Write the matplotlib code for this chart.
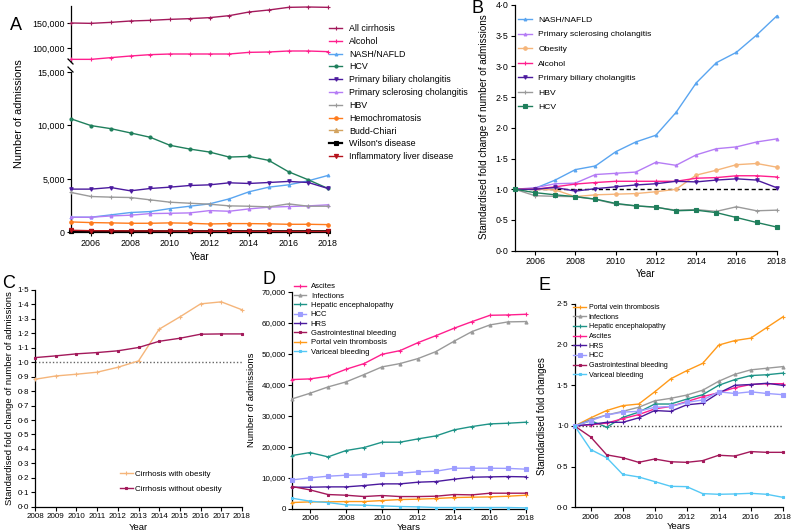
import matplotlib
matplotlib.use('Agg')
import matplotlib.pyplot as plt
from matplotlib.lines import Line2D

plt.rcParams['font.family'] = ['Liberation Sans', 'DejaVu Sans']

years = list(range(2005, 2019))
years_c = list(range(2008, 2019))

# ---------------- Panel A: number of admissions by aetiology ----------------
a_all_cirrhosis = [150000, 149300, 151300, 154000, 155300, 157300, 158700, 160700, 164700, 172000, 176000, 181300, 182000, 181300]
a_alcohol = [77300, 77300, 80700, 84000, 86700, 88000, 88000, 88000, 88000, 91300, 92000, 94000, 94000, 92700]
a_nash = [1410, 1410, 1630, 1850, 1940, 2220, 2440, 2660, 3130, 3790, 4225, 4440, 4820, 5320]
a_hcv = [10610, 9985, 9700, 9300, 8890, 8140, 7790, 7510, 7040, 7100, 6730, 5665, 4914, 4100]
a_pbc = [4040, 4040, 4190, 3880, 4100, 4225, 4380, 4440, 4630, 4570, 4660, 4760, 4660, 4100]
a_psc = [1410, 1410, 1530, 1600, 1750, 1780, 1815, 2030, 1970, 2190, 2350, 2410, 2470, 2570]
a_hbv = [3725, 3350, 3290, 3255, 3036, 2817, 2720, 2630, 2473, 2440, 2380, 2660, 2440, 2440]
a_hemo = [970, 910, 880, 845, 845, 880, 845, 780, 815, 815, 790, 750, 750, 720]
a_budd = [110, 105, 110, 105, 110, 110, 105, 110, 115, 110, 115, 120, 115, 120]
a_wilson = [90, 90, 90, 85, 90, 85, 90, 90, 95, 90, 95, 90, 95, 95]
a_inflam = [190, 150, 140, 130, 120, 110, 100, 100, 90, 90, 85, 80, 80, 80]
a_labels = ['All cirrhosis', 'Alcohol', 'NASH/NAFLD', 'HCV', 'Primary biliary cholangitis',
            'Primary sclerosing cholangitis', 'HBV', 'Hemochromatosis', 'Budd-Chiari',
            "Wilson's disease", 'Inflammatory liver disease']
a_top_ticks = [100000, 150000]
a_bottom_ticks = [0, 5000, 10000, 15000]

# ---------------- Panel B: standardised fold change ----------------
b_nash = [1.0, 1.015, 1.15, 1.32, 1.38, 1.61, 1.77, 1.88, 2.25, 2.73, 3.06, 3.23, 3.51, 3.82]
b_psc = [1.0, 1.025, 1.09, 1.10, 1.24, 1.26, 1.28, 1.44, 1.39, 1.56, 1.66, 1.69, 1.77, 1.82]
b_obesity = [1.0, 1.0, 0.99, 0.88, 0.91, 0.92, 0.93, 0.96, 1.0, 1.23, 1.31, 1.40, 1.42, 1.36]
b_alcohol = [1.0, 1.0, 1.04, 1.085, 1.11, 1.13, 1.13, 1.13, 1.13, 1.18, 1.19, 1.22, 1.22, 1.20]
b_pbc = [1.0, 1.0, 1.03, 0.97, 1.01, 1.04, 1.07, 1.09, 1.13, 1.12, 1.15, 1.17, 1.15, 1.025]
b_hbv = [1.0, 0.895, 0.885, 0.88, 0.835, 0.76, 0.73, 0.705, 0.66, 0.67, 0.64, 0.715, 0.65, 0.66]
b_hcv = [1.0, 0.945, 0.91, 0.88, 0.84, 0.77, 0.73, 0.71, 0.65, 0.66, 0.62, 0.54, 0.46, 0.385]
b_labels = ['NASH/NAFLD', 'Primary sclerosing cholangitis', 'Obesity', 'Alcohol',
            'Primary biliary cholangitis', 'HBV', 'HCV']
b_ticks = [0.0, 0.5, 1.0, 1.5, 2.0, 2.5, 3.0, 3.5, 4.0]

# ---------------- Panel C: obesity ----------------
c_with = [0.882, 0.905, 0.917, 0.931, 0.965, 1.009, 1.229, 1.314, 1.404, 1.418, 1.363]
c_without = [1.032, 1.044, 1.058, 1.067, 1.079, 1.102, 1.145, 1.166, 1.194, 1.196, 1.196]
c_labels = ['Cirrhosis with obesity', 'Cirrhosis without obesity']
c_ticks = [0.0, 0.1, 0.2, 0.3, 0.4, 0.5, 0.6, 0.7, 0.8, 0.9, 1.0, 1.1, 1.2, 1.3, 1.4, 1.5]

# ---------------- Panel D: complications, number of admissions ----------------
d_ascites = [41660, 41870, 42720, 44980, 46800, 49810, 50990, 53570, 55830, 58200, 60350, 62390, 62500, 62720]
d_infect = [35410, 37240, 39280, 40900, 43260, 45740, 46810, 48430, 50690, 54020, 57140, 59290, 60260, 60370]
d_he = [17150, 18110, 16720, 18760, 19730, 21450, 21450, 22520, 23490, 25430, 26500, 27360, 27570, 27900]
d_hcc = [9300, 9945, 10480, 10800, 10910, 11340, 11450, 11880, 12090, 13060, 13060, 13060, 13000, 12750]
d_hrs = [6930, 6930, 7040, 7040, 7470, 8010, 8010, 8550, 8760, 9510, 10160, 10270, 10370, 10270]
d_gib = [7150, 6070, 4570, 4350, 3920, 4250, 3920, 3920, 4030, 4570, 4460, 5000, 5000, 5000]
d_pvt = [1990, 2200, 2200, 2310, 2310, 2630, 2960, 3070, 3280, 3600, 3710, 3820, 4030, 4350]
d_varic = [3390, 2420, 1990, 1240, 1130, 910, 700, 590, 380, 380, 380, 380, 380, 270]
d_labels = ['Ascites', 'Infections', 'Hepatic encephalopathy', 'HCC', 'HRS',
            'Gastrointestinal bleeding', 'Portal vein thrombosis', 'Variceal bleeding']
d_ticks = [0, 10000, 20000, 30000, 40000, 50000, 60000, 70000]

# ---------------- Panel E: complications, fold change ----------------
e_pvt = [1.0, 1.10, 1.19, 1.25, 1.27, 1.42, 1.58, 1.68, 1.77, 1.995, 2.05, 2.08, 2.21, 2.34]
e_infect = [1.0, 1.08, 1.135, 1.18, 1.23, 1.31, 1.34, 1.38, 1.44, 1.55, 1.635, 1.69, 1.71, 1.73]
e_he = [1.0, 1.065, 0.985, 1.105, 1.17, 1.27, 1.27, 1.33, 1.385, 1.50, 1.57, 1.62, 1.63, 1.65]
e_ascites = [1.0, 1.015, 1.035, 1.09, 1.14, 1.21, 1.24, 1.30, 1.36, 1.41, 1.47, 1.51, 1.52, 1.52]
e_hrs = [1.0, 1.02, 1.045, 1.045, 1.10, 1.19, 1.18, 1.26, 1.28, 1.405, 1.50, 1.51, 1.525, 1.50]
e_hcc = [1.0, 1.065, 1.135, 1.17, 1.18, 1.23, 1.24, 1.29, 1.32, 1.42, 1.40, 1.42, 1.40, 1.385]
e_gib = [1.0, 0.865, 0.645, 0.61, 0.553, 0.594, 0.56, 0.553, 0.574, 0.64, 0.63, 0.685, 0.676, 0.676]
e_varic = [1.0, 0.71, 0.61, 0.405, 0.373, 0.316, 0.258, 0.254, 0.168, 0.16, 0.164, 0.172, 0.16, 0.123]
e_labels = ['Portal vein thrombosis', 'Infections', 'Hepatic encephalopathy', 'Ascites', 'HRS',
            'HCC', 'Gastrointestinal bleeding', 'Variceal bleeding']
e_ticks = [0.0, 0.5, 1.0, 1.5, 2.0, 2.5]

year_ticks = [2006, 2008, 2010, 2012, 2014, 2016, 2018]

# colours
C_ALL = '#a3195b'
C_ALC = '#ff1f8e'
C_NASH = '#5aa5f0'
C_HCV = '#1f7f5c'
C_PBC = '#4b1a9e'
C_PSC = '#b57cf5'
C_HBV = '#9a9a9a'
C_HEMO = '#ff7b1c'
C_BUDD = '#d3a35f'
C_WIL = '#000000'
C_INF = '#b5121b'
C_OBE = '#f5b57a'
C_HE = '#1f9488'
C_HCC = '#9d9dff'
C_PVT = '#ff9a1a'
C_VAR = '#55c8f5'

W, H = 791, 532
fig = plt.figure(figsize=(W / 100, H / 100), dpi=100)


def px_axes(x0, x1, ytop, ybot):
    return fig.add_axes([x0 / W, (H - ybot) / H, (x1 - x0) / W, (ybot - ytop) / H])


def style(ax, fs=6.4):
    for s in ['top', 'right']:
        ax.spines[s].set_visible(False)
    for s in ['left', 'bottom']:
        ax.spines[s].set_linewidth(0.9)
    ax.tick_params(labelsize=fs, length=3, width=0.8, pad=1.5)


def dot(v, nd=1):
    return f'{v:.{nd}f}'.replace('.', '\u00b7')


def comma(v):
    return f'{v:,.0f}'


def plot(ax, x, y, c, m, ms=2.5, lw=1.0, label=None):
    return ax.plot(x, y, color=c, marker=m, ms=ms, lw=lw, mew=0.8, clip_on=False, label=label, zorder=3)[0]


# ===================== Panel A =====================
axA = px_axes(71.25, 328, 72, 232.3)
axAt = px_axes(71.25, 328, 6, 62)
style(axA)
style(axAt)
axAt.spines['bottom'].set_visible(False)
axAt.tick_params(axis='x', bottom=False, labelbottom=False)

hA = []
hA.append(plot(axAt, years, a_all_cirrhosis, C_ALL, '+', ms=3))
hA.append(plot(axAt, years, a_alcohol, C_ALC, '+', ms=3.5))
hA.append(plot(axA, years, a_nash, C_NASH, '^', ms=2))
hA.append(plot(axA, years, a_hcv, C_HCV, 'o', ms=2.2))
hA.append(plot(axA, years, a_pbc, C_PBC, 'v', ms=2.5))
hA.append(plot(axA, years, a_psc, C_PSC, '^', ms=2))
hA.append(plot(axA, years, a_hbv, C_HBV, '+', ms=3))
hA.append(plot(axA, years, a_hemo, C_HEMO, 'o', ms=2.5))
hA.append(plot(axA, years, a_budd, C_BUDD, '^', ms=3))
hA.append(plot(axA, years, a_wilson, C_WIL, 's', ms=3, lw=1.6))
hA.append(plot(axA, years, a_inflam, C_INF, 'v', ms=3))

for ax in (axA, axAt):
    ax.set_xlim(2005, 2018)
axA.set_ylim(0, 15000)
axAt.set_ylim(72000, 184000)
axA.set_yticks(a_bottom_ticks)
axA.set_yticklabels([comma(v) for v in a_bottom_ticks])
axAt.set_yticks(a_top_ticks)
axAt.set_yticklabels([comma(v) for v in a_top_ticks])
axA.set_xticks(year_ticks)
axA.set_xlabel('Year', fontsize=7, labelpad=3)
axA.set_ylabel('Number of admissions', fontsize=7.8)
axA.yaxis.set_label_coords(-0.185, 0.74)

# axis break marks
fig.add_artist(Line2D([68 / W, 73 / W], [(H - 59) / H, (H - 64) / H], color='k', lw=0.9))
fig.add_artist(Line2D([68 / W, 73 / W], [(H - 67) / H, (H - 72) / H], color='k', lw=0.9))

fig.legend(hA, a_labels, loc='upper left', bbox_to_anchor=(329 / W, (H - 24) / H),
           frameon=False, fontsize=6.4, handlelength=1.5, handletextpad=0.8,
           labelspacing=0.43, borderaxespad=0, borderpad=0)

fig.text(10 / W, (H - 30) / H, 'A', fontsize=13)

# ===================== Panel B =====================
axB = px_axes(514.9, 776.7, 5, 250.7)
style(axB)
hB = []
hB.append(plot(axB, years, b_nash, C_NASH, '^', ms=2))
hB.append(plot(axB, years, b_psc, C_PSC, '^', ms=2))
hB.append(plot(axB, years, b_obesity, C_OBE, 'o', ms=2.5))
hB.append(plot(axB, years, b_alcohol, C_ALC, '+', ms=3.5))
hB.append(plot(axB, years, b_pbc, C_PBC, 'v', ms=2.5))
hB.append(plot(axB, years, b_hbv, C_HBV, '+', ms=3))
hB.append(plot(axB, years, b_hcv, C_HCV, 's', ms=2.2))
axB.plot([2005, 2018], [1, 1], color='k', ls=(0, (3, 2)), lw=1.0, zorder=2)
axB.set_xlim(2005, 2018)
axB.set_ylim(0, 4.0)
axB.set_yticks(b_ticks)
axB.set_yticklabels([dot(v) for v in b_ticks])
axB.set_xticks(year_ticks)
axB.set_xlabel('Year', fontsize=7, labelpad=2)
axB.set_ylabel('Stamdardised fold change of number of admissions', fontsize=7.1)
axB.yaxis.set_label_coords(-0.099, 0.505)
axB.legend(hB, b_labels, loc='upper left', bbox_to_anchor=(518 / W, (H - 16) / H),
           bbox_transform=fig.transFigure, frameon=False, fontsize=6.1, handlelength=1.7,
           handletextpad=0.7, labelspacing=0.78, borderaxespad=0, borderpad=0)
fig.text(472 / W, (H - 13) / H, 'B', fontsize=13)

# ===================== Panel C =====================
axC = px_axes(35, 242, 290, 506.7)
style(axC, fs=5.8)
hC = []
hC.append(plot(axC, years_c, c_with, C_OBE, '+', ms=2.5))
hC.append(plot(axC, years_c, c_without, C_ALL, 's', ms=2))
axC.plot([2008, 2018], [1, 1], color='#666666', ls=(0, (1, 1.5)), lw=1.0, zorder=2)
axC.set_xlim(2008, 2018)
axC.set_ylim(0, 1.5)
axC.set_yticks(c_ticks)
axC.set_yticklabels([dot(v) for v in c_ticks])
axC.set_xticks(years_c)
axC.set_xlabel('Year', fontsize=6.8, labelpad=2)
axC.set_ylabel('Standardised fold change of number of admissions', fontsize=6.8)
axC.yaxis.set_label_coords(-0.10, 0.50)
axC.legend(hC, c_labels, loc='upper left', bbox_to_anchor=(120 / W, (H - 470) / H),
           bbox_transform=fig.transFigure, frameon=False, fontsize=5.8, handlelength=1.6,
           handletextpad=0.3, labelspacing=0.9, borderaxespad=0, borderpad=0)
fig.text(2 / W, (H - 288) / H, 'C', fontsize=13)

# ===================== Panel D =====================
axD = px_axes(292, 526, 291.7, 508.7)
style(axD, fs=5.8)
hD = []
hD.append(plot(axD, years, d_ascites, C_ALC, '+', ms=2.5))
hD.append(plot(axD, years, d_infect, C_HBV, '^', ms=2.2))
hD.append(plot(axD, years, d_he, C_HE, '+', ms=2.5))
hD.append(plot(axD, years, d_hcc, C_HCC, 's', ms=2.2))
hD.append(plot(axD, years, d_hrs, C_PBC, '+', ms=2.5))
hD.append(plot(axD, years, d_gib, C_ALL, 's', ms=1.8))
hD.append(plot(axD, years, d_pvt, C_PVT, '+', ms=2.5))
hD.append(plot(axD, years, d_varic, C_VAR, 's', ms=1.8))
axD.set_xlim(2005, 2018)
axD.set_ylim(0, 70000)
axD.set_yticks(d_ticks)
axD.set_yticklabels([comma(v) for v in d_ticks])
axD.set_xticks(year_ticks)
axD.set_xlabel('Years', fontsize=6.8, labelpad=0.5)
axD.set_ylabel('Number of admissions', fontsize=6.8)
axD.yaxis.set_label_coords(-0.154, 0.50)
axD.legend(hD, d_labels, loc='upper left', bbox_to_anchor=(294 / W, (H - 283) / H),
           bbox_transform=fig.transFigure, frameon=False, fontsize=5.5, handlelength=1.6,
           handletextpad=0.6, labelspacing=0.26, borderaxespad=0, borderpad=0)
fig.text(262 / W, (H - 284) / H, 'D', fontsize=13)

# ===================== Panel E =====================
axE = px_axes(574.7, 782.7, 304, 507.3)
style(axE, fs=5.8)
hE = []
hE.append(plot(axE, years, e_pvt, C_PVT, '+', ms=2.5))
hE.append(plot(axE, years, e_infect, C_HBV, '^', ms=2.2))
hE.append(plot(axE, years, e_he, C_HE, '+', ms=2.5))
hE.append(plot(axE, years, e_ascites, C_ALC, '+', ms=2.5))
hE.append(plot(axE, years, e_hrs, C_PBC, '+', ms=2.5))
hE.append(plot(axE, years, e_hcc, C_HCC, 's', ms=2.2))
hE.append(plot(axE, years, e_gib, C_ALL, 's', ms=1.8))
hE.append(plot(axE, years, e_varic, C_VAR, 's', ms=1.8))
axE.plot([2005, 2018], [1, 1], color='#444444', ls=(0, (1, 1.5)), lw=1.0, zorder=2)
axE.set_xlim(2005, 2018)
axE.set_ylim(0, 2.5)
axE.set_yticks(e_ticks)
axE.set_yticklabels([dot(v) for v in e_ticks])
axE.set_xticks(year_ticks)
axE.set_xlabel('Years', fontsize=6.8, labelpad=1)
axE.set_ylabel('Stamdardised fold changes', fontsize=7)
axE.yaxis.set_label_coords(-0.133, 0.45)
axE.legend(hE, e_labels, loc='upper left', bbox_to_anchor=(573 / W, (H - 304) / H),
           bbox_transform=fig.transFigure, frameon=False, fontsize=5.1, handlelength=1.9,
           handletextpad=0.3, labelspacing=0.38, borderaxespad=0, borderpad=0)
fig.text(538 / W, (H - 290) / H, 'E', fontsize=13)

fig.savefig('out.png', dpi=100)
